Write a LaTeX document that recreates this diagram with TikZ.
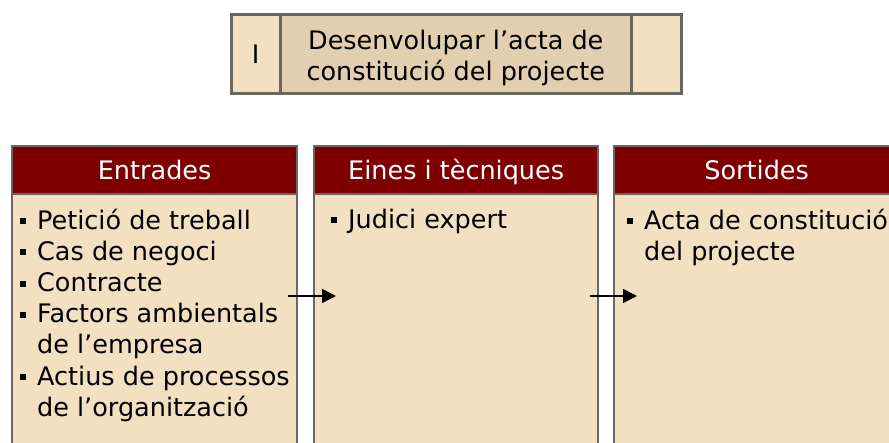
\documentclass[tikz,border=0pt]{standalone}
\usepackage{fontspec}
\setmainfont{DejaVu Sans}
\usetikzlibrary{arrows.meta}
\definecolor{wheatfill}{HTML}{F3E0C1}
\definecolor{midfill}{HTML}{E2CFAF}
\definecolor{hdrred}{HTML}{7F0000}
\definecolor{edgegray}{HTML}{6A6660}
\newcommand{\bul}{\makebox[18pt][l]{\hspace*{1pt}\raisebox{5pt}{\rule{6pt}{6pt}}}}
\newcommand{\ind}{\hspace*{18pt}}
\tikzset{
  cell/.style={draw=edgegray, line width=2.5pt, minimum height=79pt, inner sep=0pt, anchor=north west, fill=wheatfill},
  hdr/.style={draw=edgegray, line width=2.3pt, fill=hdrred, text=white, minimum height=48pt, anchor=north west, inner sep=0pt, text height=21pt, text depth=3pt, font=\fontsize{25.5}{30}\selectfont},
  body/.style={draw=edgegray, line width=2.3pt, fill=wheatfill, minimum height=260pt, anchor=north west, inner sep=0pt},
  list/.style={anchor=north west, align=left, inner sep=0pt, font=\fontsize{25.5}{31.2}\selectfont},
  arr/.style={-{Triangle[length=14pt,width=14pt]}, line width=1.6pt, black}
}
\begin{document}
\begin{tikzpicture}[x=1pt,y=-1pt]
\useasboundingbox (0,0) rectangle (889,442);
\clip (0,0) rectangle (889,442);
% top process box
\node[cell, minimum width=49pt] (tl) at (230,13) {};
\node[cell, minimum width=351pt, fill=midfill] (tm) at (279,13) {};
\node[cell, minimum width=50pt] (tr) at (630,13) {};
\node[font=\fontsize{25.5}{30}\selectfont] (tlt) at (tl.center) {I};
\node[font=\fontsize{25.5}{30}\selectfont, align=center, inner sep=0pt] (tmt) at ([yshift=-4.5pt]tm.center) {Desenvolupar l’acta de\\[1pt]constitució del projecte};
% columns
\node[body, minimum width=285pt] (b1) at (11,193) {};
\node[body, minimum width=284pt] (b2) at (313,193) {};
\node[body, minimum width=285pt] (b3) at (613,193) {};
\node[hdr, minimum width=285pt] (h1) at (11,145) {Entrades};
\node[hdr, minimum width=284pt] (h2) at (313,145) {Eines i tècniques};
\node[hdr, minimum width=285pt] (h3) at (613,145) {Sortides};
\node[list] (l1) at (19,208.5) {\bul Petició de treball\\\bul Cas de negoci\\\bul Contracte\\\bul Factors ambientals\\\ind de l’empresa\\\bul Actius de processos\\\ind de l’organització};
\node[list] (l2) at (330,208.5) {\bul Judici expert};
\node[list] (l3) at (626,208.5) {\bul Acta de constitució\\\ind del projecte};
% arrows
\coordinate (a1s) at (288,296);
\coordinate (a1e) at (336,296);
\coordinate (a2s) at (590,296);
\coordinate (a2e) at (637,296);
\draw[arr] (a1s) -- (a1e);
\draw[arr] (a2s) -- (a2e);
\end{tikzpicture}
\end{document}
